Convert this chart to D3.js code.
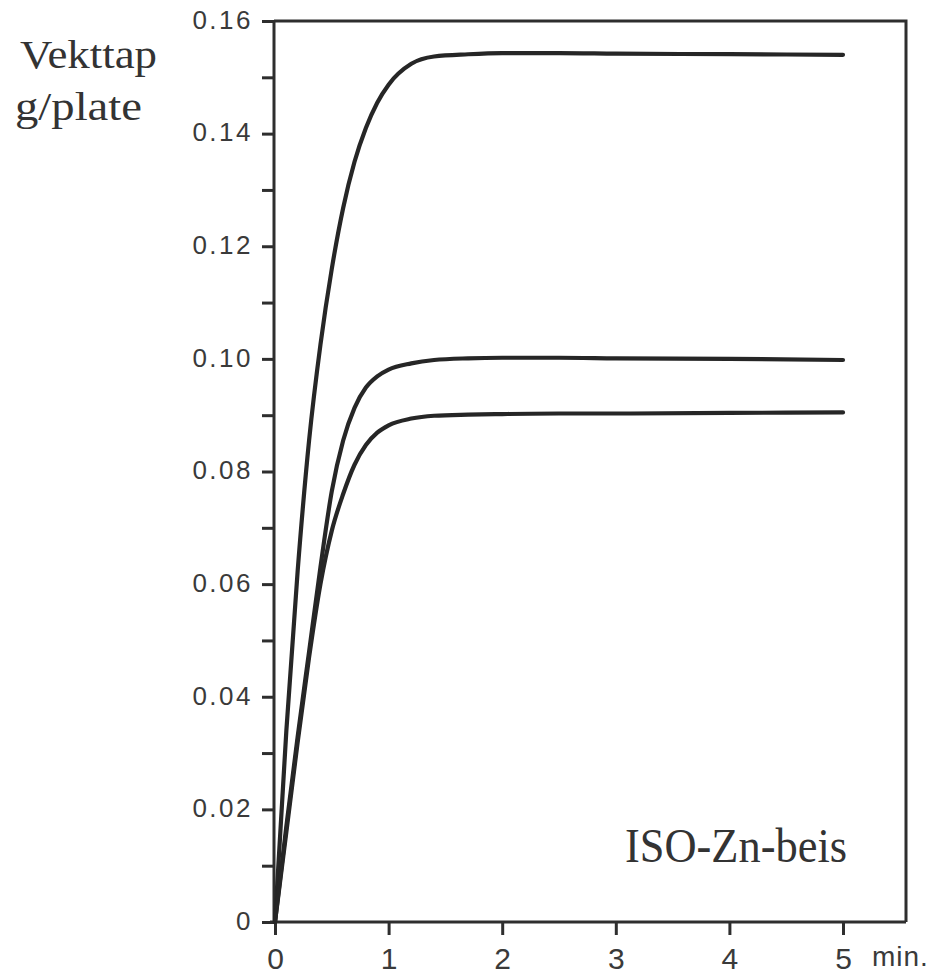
<!DOCTYPE html>
<html>
<head>
<meta charset="utf-8">
<script src="https://cdn.jsdelivr.net/npm/d3@7"></script>
<style>
  html, body { margin: 0; padding: 0; background: #ffffff; }
  svg { display: block; }
</style>
</head>
<body>
<svg id="chart" width="942" height="978"></svg>
<script>
// ---- data ----
const timeMin = [0, 0.1, 0.2, 0.3, 0.4, 0.5, 0.6, 0.7, 0.8, 0.9, 1.0, 1.2, 1.4, 1.7, 2.0, 2.5, 3, 4, 5];
const seriesTop    = [0, 0.034, 0.0625, 0.0855, 0.1025, 0.1160, 0.1268, 0.1350, 0.1410, 0.1455, 0.1487, 0.1524, 0.1537, 0.1541, 0.1543, 0.1543, 0.1542, 0.1541, 0.1540];
const seriesMiddle = [0, 0.017, 0.033, 0.048, 0.063, 0.0765, 0.0855, 0.0913, 0.0949, 0.0969, 0.0981, 0.0992, 0.0998, 0.1001, 0.1002, 0.1002, 0.1001, 0.1000, 0.0998];
const seriesLower  = [0, 0.016, 0.032, 0.047, 0.060, 0.0695, 0.0760, 0.0812, 0.0847, 0.0869, 0.0882, 0.0894, 0.0899, 0.0901, 0.0902, 0.0903, 0.0903, 0.0904, 0.0905];
const series = [seriesTop, seriesMiddle, seriesLower];

const xTickValues = [0, 1, 2, 3, 4, 5];
const yTickValues = [0, 0.02, 0.04, 0.06, 0.08, 0.10, 0.12, 0.14, 0.16];
const yMinorTickValues = [0.01, 0.03, 0.05, 0.07, 0.09, 0.11, 0.13, 0.15];
const yTickLabels = ["0", "0.02", "0.04", "0.06", "0.08", "0.10", "0.12", "0.14", "0.16"];
const yTitleLines = ["Vekttap", "g/plate"];
const xUnitLabel = "min.";
const panelLabel = "ISO-Zn-beis";

// ---- layout ----
const svg = d3.select("#chart");
const pLeft = 274, pRight = 906, pTop = 21, pBottom = 922;
const xDataRight = 843; // position of 5 min

const x = d3.scaleLinear().domain([0, 5]).range([pLeft + 1, xDataRight]);
const y = d3.scaleLinear().domain([0, 0.16]).range([pBottom, pTop]);

const ink = "#2e2e2e";

// frame: top and right
svg.append("path")
  .attr("d", `M${pLeft},${pTop}H${pRight}V${pBottom}`)
  .attr("fill", "none").attr("stroke", ink).attr("stroke-width", 3);

// y axis
const yAxis = d3.axisLeft(y).tickValues(yTickValues).tickSize(12)
  .tickFormat((d, i) => yTickLabels[i]);
const gy = svg.append("g").attr("transform", `translate(${pLeft},0)`).call(yAxis);
gy.select(".domain").attr("stroke", ink).attr("stroke-width", 3)
  .attr("d", `M0,${pTop}V${pBottom}`);
gy.selectAll(".tick line").attr("stroke", ink).attr("stroke-width", 3);
gy.selectAll(".tick text")
  .attr("x", -21).attr("dy", "0.28em")
  .attr("fill", "#3a3a3a").attr("font-family", "'Liberation Sans', Arial, sans-serif")
  .attr("font-size", 26).attr("letter-spacing", 2.5).attr("text-anchor", "end");

const yMinor = d3.axisLeft(y).tickValues(yMinorTickValues).tickSize(12).tickFormat("");
const gym = svg.append("g").attr("transform", `translate(${pLeft},0)`).call(yMinor);
gym.select(".domain").remove();
gym.selectAll(".tick line").attr("stroke", ink).attr("stroke-width", 3);

// x axis
const xAxis = d3.axisBottom(x).tickValues(xTickValues).tickSize(13).tickFormat(d3.format("d"));
const gx = svg.append("g").attr("transform", `translate(0,${pBottom})`).call(xAxis);
gx.select(".domain").attr("stroke", ink).attr("stroke-width", 3)
  .attr("d", `M${pLeft - 4},0H${pRight}`);
gx.selectAll(".tick line").attr("stroke", ink).attr("stroke-width", 3);
gx.selectAll(".tick text")
  .attr("y", 47).attr("dy", 0)
  .attr("fill", "#3a3a3a").attr("font-family", "'Liberation Sans', Arial, sans-serif")
  .attr("font-size", 30);

svg.append("text")
  .attr("x", x(5) + 29).attr("y", pBottom + 44)
  .attr("fill", "#3a3a3a").attr("font-family", "'Liberation Sans', Arial, sans-serif")
  .attr("font-size", 28).attr("letter-spacing", 1)
  .text(xUnitLabel);

// curves
const line = d3.line()
  .x((d, i) => x(timeMin[i]))
  .y(d => y(d))
  .curve(d3.curveMonotoneX);

svg.append("g").selectAll("path").data(series).join("path")
  .attr("d", d => line(d))
  .attr("fill", "none").attr("stroke", "#262626").attr("stroke-width", 4.2)
  .attr("stroke-linecap", "round").attr("stroke-linejoin", "round");

// y title
svg.append("text").attr("x", 20).attr("y", 68)
  .attr("font-family", "'Liberation Serif', 'Times New Roman', serif")
  .attr("font-size", 40).attr("fill", "#333")
  .attr("textLength", 137).attr("lengthAdjust", "spacingAndGlyphs")
  .text(yTitleLines[0]);
svg.append("text").attr("x", 15).attr("y", 120)
  .attr("font-family", "'Liberation Serif', 'Times New Roman', serif")
  .attr("font-size", 40).attr("fill", "#333")
  .attr("textLength", 127).attr("lengthAdjust", "spacingAndGlyphs")
  .text(yTitleLines[1]);

// panel label
svg.append("text").attr("x", 625).attr("y", 862)
  .attr("font-family", "'Liberation Serif', 'Times New Roman', serif")
  .attr("font-size", 48).attr("fill", "#333")
  .attr("textLength", 222).attr("lengthAdjust", "spacingAndGlyphs")
  .text(panelLabel);
</script>
</body>
</html>
